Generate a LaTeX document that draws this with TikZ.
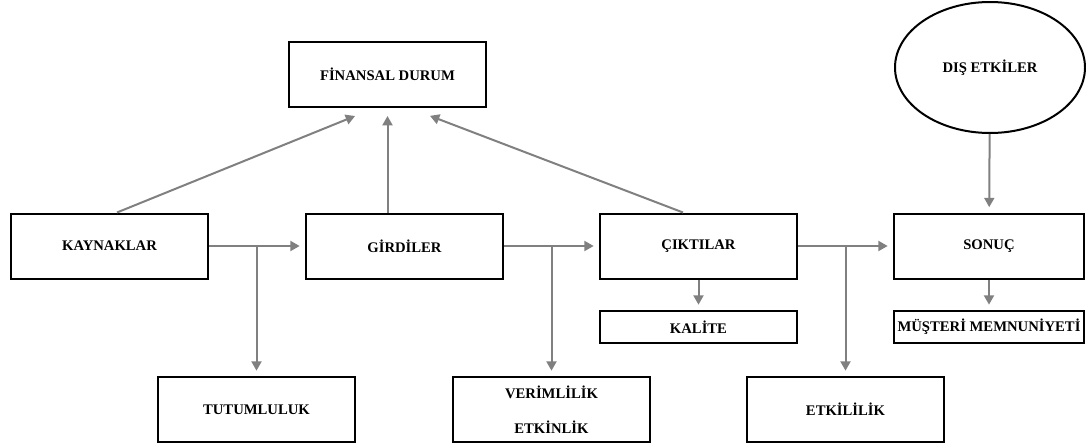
\documentclass[tikz,border=0pt]{standalone}
\usepackage{fontspec}
\setmainfont{Liberation Serif}
\usetikzlibrary{calc,arrows.meta,shapes.geometric}
\tikzset{
  kutu/.style={draw,line width=1.5pt,minimum width=147.75pt,minimum height=48.75pt,inner sep=0pt,
    font=\bfseries\fontsize{11}{13}\selectfont},
  ince/.style={kutu,minimum height=24pt},
  elips/.style={kutu,ellipse,minimum width=142.5pt,minimum height=98.25pt},
  ok/.style={draw=gray,line width=1.5pt,-{Triangle[length=7pt,width=7.5pt]},shorten >=4pt}
}
\begin{document}
\begin{tikzpicture}[x=0.75pt,y=-0.75pt]
  \useasboundingbox (0,0) rectangle (1086,443);
  %\draw[very thin,lightgray] (0,0) grid[step=50] (1086,443);
  \node[kutu] (fin) at (387.5,74.5) {FİNANSAL DURUM};
  \node[elips] (dis) at (990,67.5) {DIŞ ETKİLER};
  \node[kutu] (kay) at (109.5,246) {KAYNAKLAR};
  \node[kutu] (gir) at (404.5,246) {GİRDİLER};
  \node[kutu] (cik) at (698.5,246) {ÇIKTILAR};
  \node[kutu,minimum width=142.5pt] (son) at (989,246) {SONUÇ};
  \node[ince] (kal) at (698.5,327) {KALİTE};
  \node[ince,minimum width=142.5pt] (mus) at (989,327) {MÜŞTERİ MEMNUNİYETİ};
  \node[kutu] (tut) at (256.5,409.5) {TUTUMLULUK};
  \node[kutu,align=center] (ver) at (551.5,409.5) {VERİMLİLİK\\[13pt]ETKİNLİK};
  \node[kutu] (etk) at (845.5,409.5) {ETKİLİLİK};
  % finansal duruma
  \draw[ok,shorten >=6pt] ([xshift=5.6pt]kay.north) -- ($(fin.south)+(-25,5)$);
  \draw[ok,shorten >=6pt] (gir.north -| fin.south) -- (fin.south);
  \draw[ok,shorten >=6pt] ([xshift=-11.6pt]cik.north) -- ($(fin.south)+(35,5)$);
  % ana akis
  \draw[ok] (kay) -- (gir);
  \draw[ok] (gir) -- (cik);
  \draw[ok] (cik) -- (son);
  \draw[ok] (kay.east -| tut.north) -- (tut.north);
  \draw[ok] (gir.east -| ver.north) -- (ver.north);
  \draw[ok] (cik.east -| etk.north) -- (etk.north);
  \draw[ok] (cik) -- (kal);
  \draw[ok] (son) -- (mus);
  \draw[ok] (dis) -- (son);
\end{tikzpicture}
\end{document}
